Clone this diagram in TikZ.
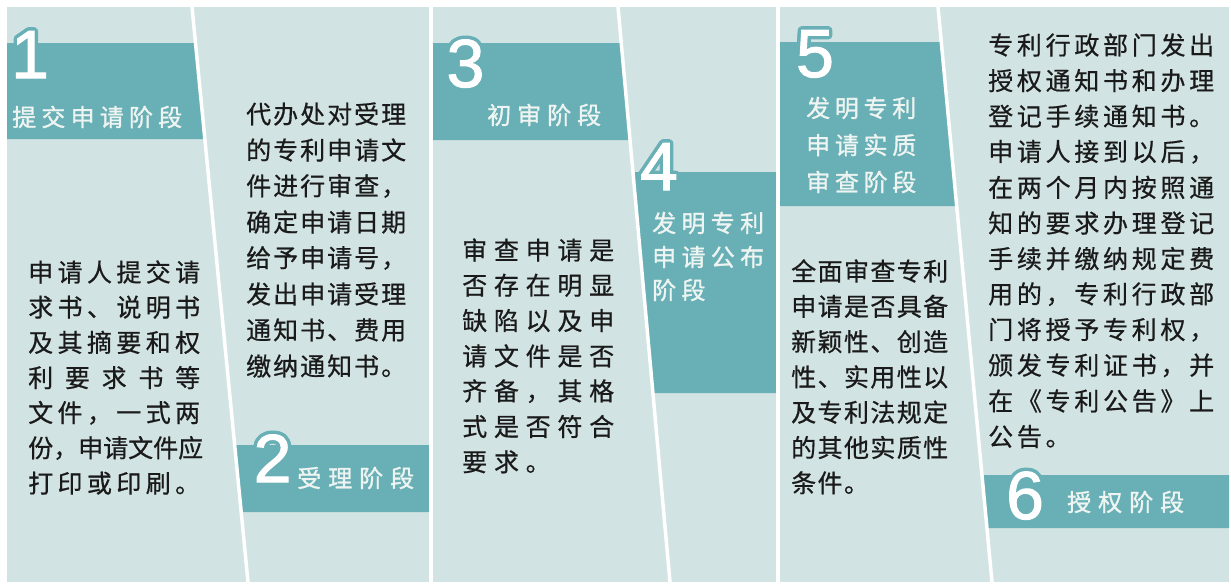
\documentclass[tikz,border=0pt]{standalone}
\usepackage{fontspec}
\usetikzlibrary{calc}
\newfontfamily\cjk{Noto Sans CJK SC}[FakeBold=0.6]
\newfontfamily\cjklab{Noto Sans CJK SC}[FakeBold=1.2]
\newfontfamily\digitfont{Liberation Sans}[FakeBold=1.5]
\definecolor{bg}{HTML}{D2E3E3}
\definecolor{tealbar}{HTML}{68B0B6}
\definecolor{ink}{HTML}{1A1A1A}
\definecolor{lab}{HTML}{EEF4F1}

\ExplSyntaxOn
\seq_new:N \l_my_chars_seq
\NewDocumentCommand\jl{mm}{
  \seq_clear:N \l_my_chars_seq
  \tl_map_inline:nn {#2} { \seq_put_right:Nn \l_my_chars_seq {##1} }
  \makebox[#1][s]{ \seq_use:Nn \l_my_chars_seq { \hfil } }
}
\NewDocumentCommand\gapped{mm}{
  \seq_clear:N \l_my_chars_seq
  \tl_map_inline:nn {#2} { \seq_put_right:Nn \l_my_chars_seq {##1} }
  \seq_use:Nn \l_my_chars_seq { \hspace{#1} }
}
\ExplSyntaxOff

\tikzset{
  bar/.style={fill=tealbar, draw=none},
  sepline/.style={white, line width=3.5pt},
  body/.style={anchor=west, inner sep=0pt, text=ink, font=\cjk\fontsize{25}{25}\selectfont},
  lbl/.style={anchor=west, inner sep=0pt, text=lab, font=\cjklab\fontsize{24}{24}\selectfont},
  dig/.style={anchor=base, inner sep=0pt, font=\digitfont\fontsize{68}{68}\selectfont},
}

\newcommand\bigdigit[3]{%
  \foreach \a in {0,30,...,330} {\node[dig, text=tealbar] at ($(#2)+(\a:3.5)$) {#3};}
  \node[dig, text=white] (#1) at (#2) {#3};
}

\begin{document}
\begin{tikzpicture}[x=1pt,y=-1pt]
\useasboundingbox (0,0) rectangle (1231,584);
\fill[white] (0,0) rectangle (1231,584);
\fill[bg] (7,7) rectangle (1229,582);

% bars
\fill[bar] (7,43) -- (195.5,43) -- (204.9,139) -- (7,139) -- cycle;
\fill[bar] (234.7,445) -- (431,445) -- (431,512) -- (241.2,512) -- cycle;
\fill[bar] (431,43) -- (621.3,43) -- (630,140) -- (431,140) -- cycle;
\fill[bar] (632.9,172) -- (776,172) -- (776,393) -- (652.9,393) -- cycle;
\fill[bar] (779,42) -- (941.3,42) -- (956.7,206) -- (779,206) -- cycle;
\fill[bar] (982,475) -- (1229,475) -- (1229,528) -- (987,528) -- cycle;

% separators
\coordinate (s1a) at (192,7);  \coordinate (s1b) at (248,582);
\coordinate (s2a) at (431,7);  \coordinate (s2b) at (431,582);
\coordinate (s3a) at (618,7);  \coordinate (s3b) at (670,582);
\coordinate (s4a) at (778,7);  \coordinate (s4b) at (778,582);
\coordinate (s5a) at (938,7);  \coordinate (s5b) at (992,582);
\draw[sepline] (s1a) -- (s1b);
\draw[sepline] (s2a) -- (s2b);
\draw[sepline] (s3a) -- (s3b);
\draw[sepline] (s4a) -- (s4b);
\draw[sepline] (s5a) -- (s5b);

% digits
\bigdigit{d1}{30,78}{1}
\bigdigit{d2}{272.5,482}{2}
\bigdigit{d3}{465.5,87}{3}
\bigdigit{d4}{659,190}{4}
\bigdigit{d5}{815,77}{5}
\bigdigit{d6}{1025,519}{6}

% labels
\node[lbl] (l1) at (12,117) {\gapped{5.2pt}{提交申请阶段}};
\node[lbl] (l2) at (297,478) {\gapped{7pt}{受理阶段}};
\node[lbl] (l3) at (487,115) {\gapped{6pt}{初审阶段}};
\node[lbl] (l4a) at (652,223) {\gapped{5.3pt}{发明专利}};
\node[lbl] (l4b) at (652,257) {\gapped{5.3pt}{申请公布}};
\node[lbl] (l4c) at (652,290) {\gapped{5.3pt}{阶段}};
\node[lbl] (l5a) at (806,108) {\gapped{4.7pt}{发明专利}};
\node[lbl] (l5b) at (806,145) {\gapped{4.7pt}{申请实质}};
\node[lbl] (l5c) at (806,182) {\gapped{4.7pt}{审查阶段}};
\node[lbl] (l6) at (1067,502) {\gapped{7pt}{授权阶段}};

% body text panel 1
\node[body] (p1a) at (28,272) {\jl{172pt}{申请人提交请}};
\node[body] (p1b) at (28,307.2) {\jl{172pt}{求书、说明书}};
\node[body] (p1c) at (28,342.4) {\jl{172pt}{及其摘要和权}};
\node[body] (p1d) at (28,377.6) {\jl{172pt}{利要求书等}};
\node[body] (p1e) at (28,412.8) {\jl{172pt}{文件，一式两}};
\node[body] (p1f) at (28,448) {\jl{172pt}{份，申请文件应}};
\node[body] (p1g) at (28,483.2) {\gapped{4.4pt}{打印或印刷。}};

% panel 2
\node[body] (p2a) at (246,114) {\jl{160pt}{代办处对受理}};
\node[body] (p2b) at (246,150) {\jl{160pt}{的专利申请文}};
\node[body] (p2c) at (246,186) {\jl{160pt}{件进行审查，}};
\node[body] (p2d) at (246,222) {\jl{160pt}{确定申请日期}};
\node[body] (p2e) at (246,258) {\jl{160pt}{给予申请号，}};
\node[body] (p2f) at (246,294) {\jl{160pt}{发出申请受理}};
\node[body] (p2g) at (246,330) {\jl{160pt}{通知书、费用}};
\node[body] (p2h) at (246,366) {\gapped{2pt}{缴纳通知书。}};

% panel 3
\node[body] (p3a) at (462,250) {\jl{152pt}{审查申请是}};
\node[body] (p3b) at (462,285.3) {\jl{152pt}{否存在明显}};
\node[body] (p3c) at (462,320.6) {\jl{152pt}{缺陷以及申}};
\node[body] (p3d) at (462,355.9) {\jl{152pt}{请文件是否}};
\node[body] (p3e) at (462,391.2) {\jl{152pt}{齐备，其格}};
\node[body] (p3f) at (462,426.5) {\jl{152pt}{式是否符合}};
\node[body] (p3g) at (462,461.8) {\gapped{6.75pt}{要求。}};

% panel 5
\node[body] (p5a) at (791,271) {\jl{157pt}{全面审查专利}};
\node[body] (p5b) at (791,306.3) {\jl{157pt}{申请是否具备}};
\node[body] (p5c) at (791,341.6) {\jl{157pt}{新颖性、创造}};
\node[body] (p5d) at (791,376.9) {\jl{157pt}{性、实用性以}};
\node[body] (p5e) at (791,412.2) {\jl{157pt}{及专利法规定}};
\node[body] (p5f) at (791,447.5) {\jl{157pt}{的其他实质性}};
\node[body] (p5g) at (791,482.8) {\gapped{1.4pt}{条件。}};

% panel 6
\node[body] (p6a) at (988,45) {\jl{226pt}{专利行政部门发出}};
\node[body] (p6b) at (988,80.6) {\jl{226pt}{授权通知书和办理}};
\node[body] (p6c) at (988,116.2) {\jl{226pt}{登记手续通知书。}};
\node[body] (p6d) at (988,151.8) {\jl{226pt}{申请人接到以后，}};
\node[body] (p6e) at (988,187.4) {\jl{226pt}{在两个月内按照通}};
\node[body] (p6f) at (988,223) {\jl{226pt}{知的要求办理登记}};
\node[body] (p6g) at (988,258.6) {\jl{226pt}{手续并缴纳规定费}};
\node[body] (p6h) at (988,294.2) {\jl{226pt}{用的，专利行政部}};
\node[body] (p6i) at (988,329.8) {\jl{226pt}{门将授予专利权，}};
\node[body] (p6j) at (988,365.4) {\jl{226pt}{颁发专利证书，并}};
\node[body] (p6k) at (988,401) {\jl{226pt}{在《专利公告》上}};
\node[body] (p6l) at (988,436.6) {\gapped{3.7pt}{公告。}};
\end{tikzpicture}
\end{document}
